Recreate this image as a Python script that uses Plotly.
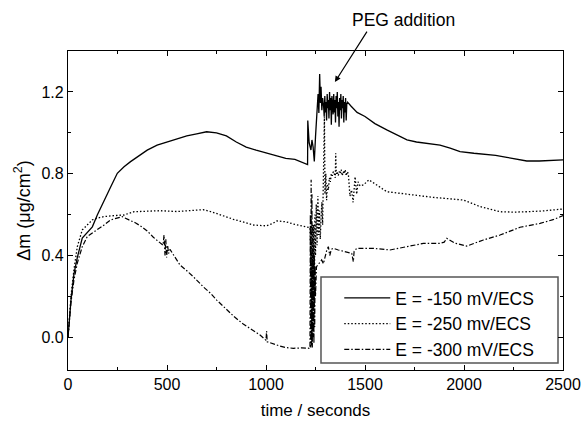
import plotly.graph_objects as go

# ---------------- data ----------------
t150 = [0, 5, 15, 30, 47, 72, 97, 123, 148, 182, 216, 249, 283, 316, 350, 400, 450, 500, 550, 600,
        650, 700, 750, 800, 850, 900, 950, 1005, 1050, 1100, 1146, 1180, 1210,
        1211, 1218, 1227, 1232, 1238, 1244, 1250, 1256, 1263, 1267, 1271, 1275, 1278, 1282, 1286,
        1291, 1294, 1297, 1300, 1303, 1306, 1309, 1312, 1315, 1318, 1321, 1324, 1327, 1330, 1333,
        1336, 1339, 1342, 1345, 1348, 1351, 1354, 1357, 1360, 1363, 1366, 1369, 1372, 1375, 1378,
        1381, 1384, 1387, 1390, 1393, 1396, 1399, 1402, 1405, 1408,
        1412, 1430, 1460, 1500, 1550, 1610, 1660, 1712, 1760, 1812, 1850, 1879, 1930, 1980, 2050,
        2115, 2160, 2216, 2270, 2317, 2380, 2440, 2500]
m150 = [0, 0.06, 0.18, 0.31, 0.39, 0.485, 0.51, 0.54, 0.598, 0.671, 0.736, 0.802, 0.834, 0.859, 0.883,
        0.915, 0.94, 0.955, 0.97, 0.985, 0.995, 1.005, 1.0, 0.985, 0.955, 0.93, 0.915, 0.90, 0.89,
        0.875, 0.87, 0.855, 0.845,
        1.06, 0.95, 0.916, 0.965, 0.93, 0.86, 0.98, 1.10, 1.19, 1.097, 1.288, 1.146, 1.225, 1.11, 1.17,
        1.13, 1.08, 1.18, 1.10, 1.15, 1.06, 1.19, 1.12, 1.16, 1.07, 1.20, 1.11, 1.17, 1.04, 1.18,
        1.13, 1.09, 1.19, 1.10, 1.16, 1.05, 1.18, 1.12, 1.20, 1.08, 1.15, 1.03, 1.17, 1.11, 1.19,
        1.07, 1.16, 1.12, 1.18, 1.05, 1.15, 1.10, 1.17, 1.06, 1.14,
        1.15, 1.13, 1.10, 1.08, 1.045, 1.014, 0.99, 0.965, 0.955, 0.949, 0.945, 0.94, 0.925, 0.908,
        0.90, 0.895, 0.89, 0.88, 0.87, 0.862, 0.862, 0.865, 0.868]

t250 = [0, 5, 15, 30, 47, 72, 97, 123, 148, 182, 232, 283, 333, 400, 465, 550, 620, 682, 720, 768,
        835, 880, 936, 1003, 1030, 1055, 1100, 1138, 1180, 1222,
        1228, 1232, 1235, 1238, 1241, 1244, 1247, 1250, 1254, 1258, 1262, 1266, 1270, 1274, 1278,
        1282, 1286, 1290, 1295, 1298, 1302, 1306, 1310, 1315, 1320, 1325, 1330, 1335, 1340, 1345,
        1350, 1352, 1355, 1360, 1365, 1370, 1375, 1380, 1385, 1390, 1395, 1400, 1405, 1410, 1416,
        1424, 1432, 1440, 1450, 1458, 1465, 1475, 1492, 1520, 1542, 1580, 1610, 1711, 1780, 1845,
        1920, 1997, 2040, 2081, 2182, 2250, 2317, 2400, 2485, 2500]
m250 = [0, 0.07, 0.2, 0.33, 0.443, 0.525, 0.549, 0.574, 0.583, 0.59, 0.595, 0.598, 0.614, 0.617, 0.619,
        0.615, 0.618, 0.624, 0.615, 0.598, 0.577, 0.565, 0.549, 0.545, 0.555, 0.569, 0.565, 0.554,
        0.545, 0.536,
        0.30, -0.02, 0.40, 0.05, 0.55, 0.15, 0.60, 0.40, 0.65, 0.45, 0.69, 0.50, 0.62, 0.48, 0.58,
        0.66, 0.55, 0.75, 1.08, 0.70, 0.80, 0.67, 0.75, 0.72, 0.78, 0.76, 0.80, 0.79, 0.81, 0.80,
        0.78, 0.90, 0.80, 0.81, 0.79, 0.81, 0.80, 0.82, 0.79, 0.81, 0.80, 0.82, 0.79, 0.81, 0.80,
        0.69, 0.72, 0.66, 0.785, 0.70, 0.76, 0.74, 0.745, 0.77, 0.756, 0.73, 0.712, 0.70, 0.69, 0.684,
        0.678, 0.671, 0.655, 0.639, 0.614, 0.612, 0.614, 0.618, 0.626, 0.628]

t300 = [0, 5, 15, 30, 47, 72, 97, 123, 148, 182, 215, 254, 274, 308, 340, 372, 400, 431, 465, 480,
        485, 490, 494, 498, 503, 508, 515, 540, 566, 600, 633, 683, 720, 751, 801, 840, 885, 930,
        970, 1000, 1003, 1006, 1040, 1071, 1100, 1138, 1180, 1222,
        1224, 1226, 1228, 1230, 1232, 1234, 1236, 1238, 1240, 1242, 1244, 1246, 1248, 1250,
        1255, 1265, 1281, 1290, 1298, 1308, 1315, 1322, 1330, 1340, 1365, 1400, 1433, 1441, 1445,
        1458, 1483, 1542, 1626, 1711, 1795, 1879, 1900, 1913, 1955, 2014, 2098, 2182, 2283, 2384,
        2450, 2500]
m300 = [0, 0.05, 0.17, 0.28, 0.363, 0.443, 0.492, 0.51, 0.525, 0.549, 0.574, 0.585, 0.59, 0.574, 0.56,
        0.541, 0.52, 0.489, 0.463, 0.45, 0.50, 0.40, 0.48, 0.39, 0.45, 0.41, 0.43, 0.394, 0.353,
        0.325, 0.296, 0.247, 0.215, 0.182, 0.137, 0.10, 0.065, 0.035, 0.011, -0.015, 0.03, -0.022,
        -0.035, -0.043, -0.05, -0.054, -0.052, -0.054,
        0.60, -0.05, 0.77, -0.04, 0.70, -0.05, 0.55, 0.0, 0.45, -0.03, 0.40, 0.05, 0.35, 0.20,
        0.345, 0.36, 0.378, 0.36, 0.394, 0.43, 0.443, 0.40, 0.43, 0.435, 0.427, 0.42, 0.41, 0.37,
        0.42, 0.435, 0.435, 0.435, 0.427, 0.443, 0.459, 0.459, 0.465, 0.484, 0.46, 0.446, 0.476,
        0.50, 0.538, 0.557, 0.575, 0.595]

names = ["E = -150 mV/ECS", "E = -250 mv/ECS", "E = -300 mV/ECS"]

assert len(t150) == len(m150) and len(t250) == len(m250) and len(t300) == len(m300)

FONT = "Liberation Sans, Arial, Helvetica, sans-serif"

fig = go.Figure()
fig.add_trace(go.Scatter(x=t150, y=m150, mode="lines", name=names[0], legendgroup="a",
                         line=dict(color="black", width=1.3)))
fig.add_trace(go.Scatter(x=t250, y=m250, mode="lines", name=names[1], legendgroup="b",
                         line=dict(color="black", width=1.3, dash="1.5px,2px")))
fig.add_trace(go.Scatter(x=t300, y=m300, mode="lines", name=names[2], legendgroup="c",
                         line=dict(color="black", width=1.2, dash="5px,2px,1.5px,2px")))

axis_common = dict(showline=True, linecolor="black", linewidth=1.3, mirror="allticks",
                   ticks="inside", ticklen=5, tickwidth=1.2, tickcolor="black",
                   showgrid=False, zeroline=False, automargin=False,
                   tickfont=dict(family=FONT, size=16, color="black"))

fig.update_xaxes(range=[0, 2500], dtick=500, tick0=0,
                 minor=dict(dtick=250, ticks="inside", ticklen=3, tickcolor="black", tickwidth=1.2),
                 title=dict(text="time / seconds", font=dict(family=FONT, size=17, color="black"),
                            standoff=11),
                 **axis_common)
fig.update_yaxes(range=[-0.16, 1.40], dtick=0.4, tick0=0, tickformat=".1f",
                 minor=dict(dtick=0.2, ticks="inside", ticklen=3, tickcolor="black", tickwidth=1.2),
                 title=dict(text="Δm (μg/cm<sup>2</sup>)", font=dict(family=FONT, size=18, color="black"),
                            standoff=6),
                 **axis_common)

# legend frame
fig.add_shape(type="rect", xref="paper", yref="paper", x0=0.5111, x1=0.9899, y0=0.0219, y1=0.2915,
              line=dict(color="#555555", width=1.5), fillcolor="white", layer="below")

fig.add_annotation(xref="paper", yref="paper", x=0.6768, y=1.0972, xanchor="center", yanchor="middle",
                   text="PEG addition", showarrow=False,
                   font=dict(family=FONT, size=17.5, color="black"))
fig.add_annotation(x=1348, y=1.248, xref="x", yref="y", text="", showarrow=True,
                   ax=33, ay=-52, arrowhead=2, arrowsize=1, arrowwidth=1.2, arrowcolor="black")

fig.update_layout(
    width=582, height=430,
    margin=dict(l=68, r=19, t=51, b=60, autoexpand=False),
    paper_bgcolor="white", plot_bgcolor="rgba(0,0,0,0)",
    font=dict(family=FONT, size=16, color="black"),
    legend=dict(x=0.548, y=0.282, xanchor="left", yanchor="top",
                bgcolor="rgba(0,0,0,0)", borderwidth=0, itemwidth=46,
                traceorder="grouped", tracegroupgap=0,
                font=dict(family=FONT, size=17.5, color="black")),
)

fig.write_html("out.html")
